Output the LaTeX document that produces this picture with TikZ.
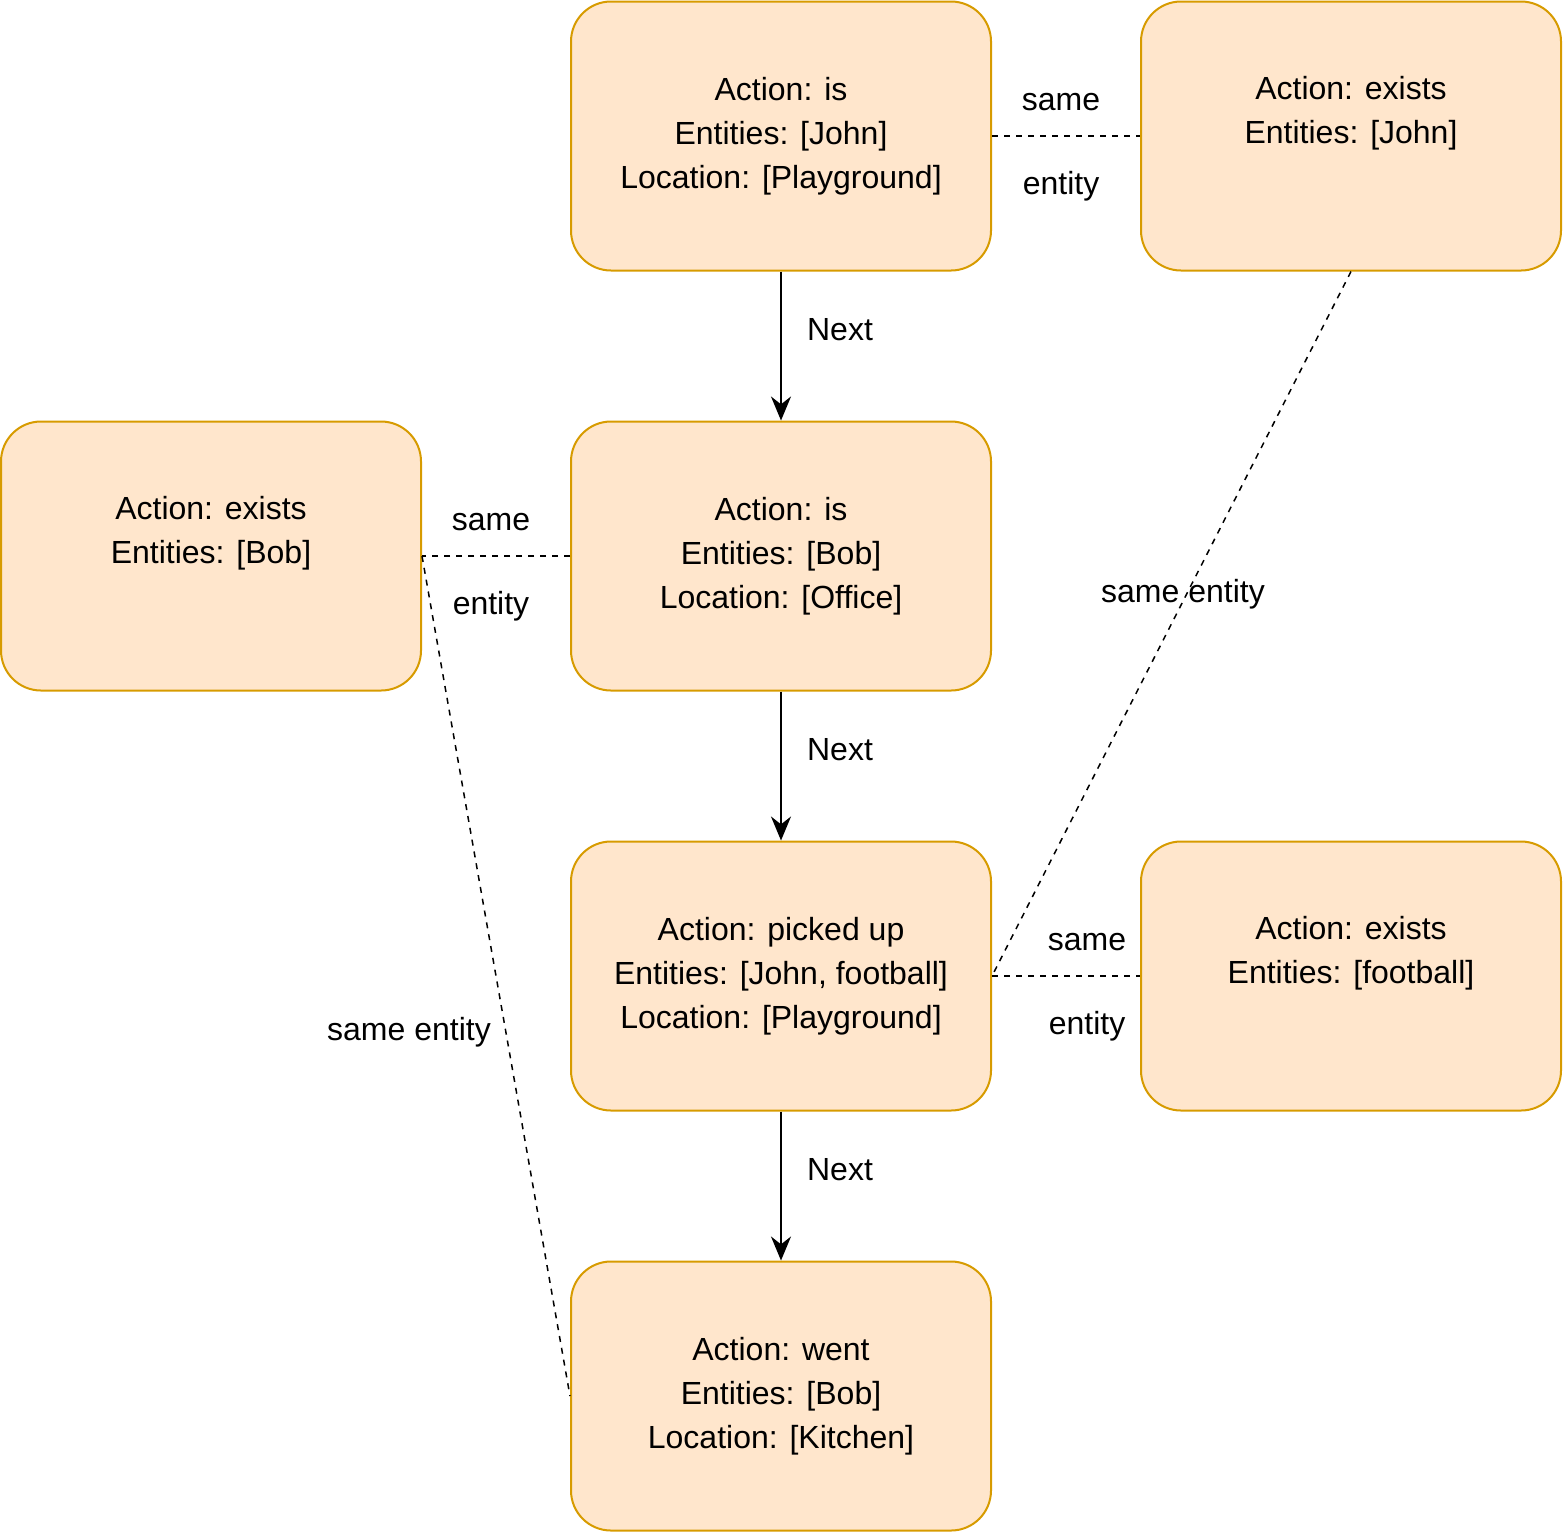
\documentclass[tikz,border=0pt]{standalone}
\usepackage{fontspec}
\setmainfont{Liberation Sans}
\usetikzlibrary{arrows.meta}
\definecolor{boxfill}{HTML}{FFE6CC}
\definecolor{boxdraw}{HTML}{D79B00}
\begin{document}
\begin{tikzpicture}[x=0.5pt,y=-0.5pt,
  box/.style={draw=boxdraw,fill=boxfill,line width=1pt,rounded corners=20pt,minimum width=210pt,minimum height=134.5pt,align=center,font=\fontsize{16}{22}\selectfont,inner sep=0pt},
  lbl/.style={font=\fontsize{16}{20}\selectfont,inner sep=0pt},
  dsh/.style={dashed,line width=0.75pt},
  arr/.style={-{Stealth[length=12pt,width=10pt]},line width=1pt}]
\useasboundingbox (0,0) rectangle (1563,1533);
\node[box] (A) at (781,136) {Action: is\\Entities: [John]\\Location: [Playground]};
\node[box] (B) at (1351,136) {Action: exists\\Entities: [John]\\[4pt]};
\node[box] (C) at (211,556) {Action: exists\\Entities: [Bob]\\[4pt]};
\node[box] (D) at (781,556) {Action: is\\Entities: [Bob]\\Location: [Office]};
\node[box] (E) at (781,976) {Action: picked up\\Entities: [John, football]\\Location: [Playground]};
\node[box] (F) at (1351,976) {Action: exists\\Entities: [football]\\[4pt]};
\node[box] (G) at (781,1396) {Action: went\\Entities: [Bob]\\Location: [Kitchen]};
\draw[arr] (A) -- (D);
\draw[arr] (D) -- (E);
\draw[arr] (E) -- (G);
\node[lbl] (n1) at (840,330) {Next};
\node[lbl] (n2) at (840,750) {Next};
\node[lbl] (n3) at (840,1170) {Next};
\draw[dsh] (A.east) -- (B.west);
\draw[dsh] (D.west) -- (C.east);
\draw[dsh] (E.east) -- (F.west);
\draw[dsh] (B.south) -- (E.east);
\draw[dsh] (C.east) -- (G.west);
\node[lbl] (l1a) at (1061,102) {same};
\node[lbl] (l1b) at (1061,186) {entity};
\node[lbl] (l2a) at (491,522) {same};
\node[lbl] (l2b) at (491,606) {entity};
\node[lbl] (l3a) at (1087,942) {same};
\node[lbl] (l3b) at (1087,1026) {entity};
\node[lbl] (l4) at (1183,594) {same entity};
\node[lbl] (l5) at (409,1032) {same entity};
\end{tikzpicture}
\end{document}
